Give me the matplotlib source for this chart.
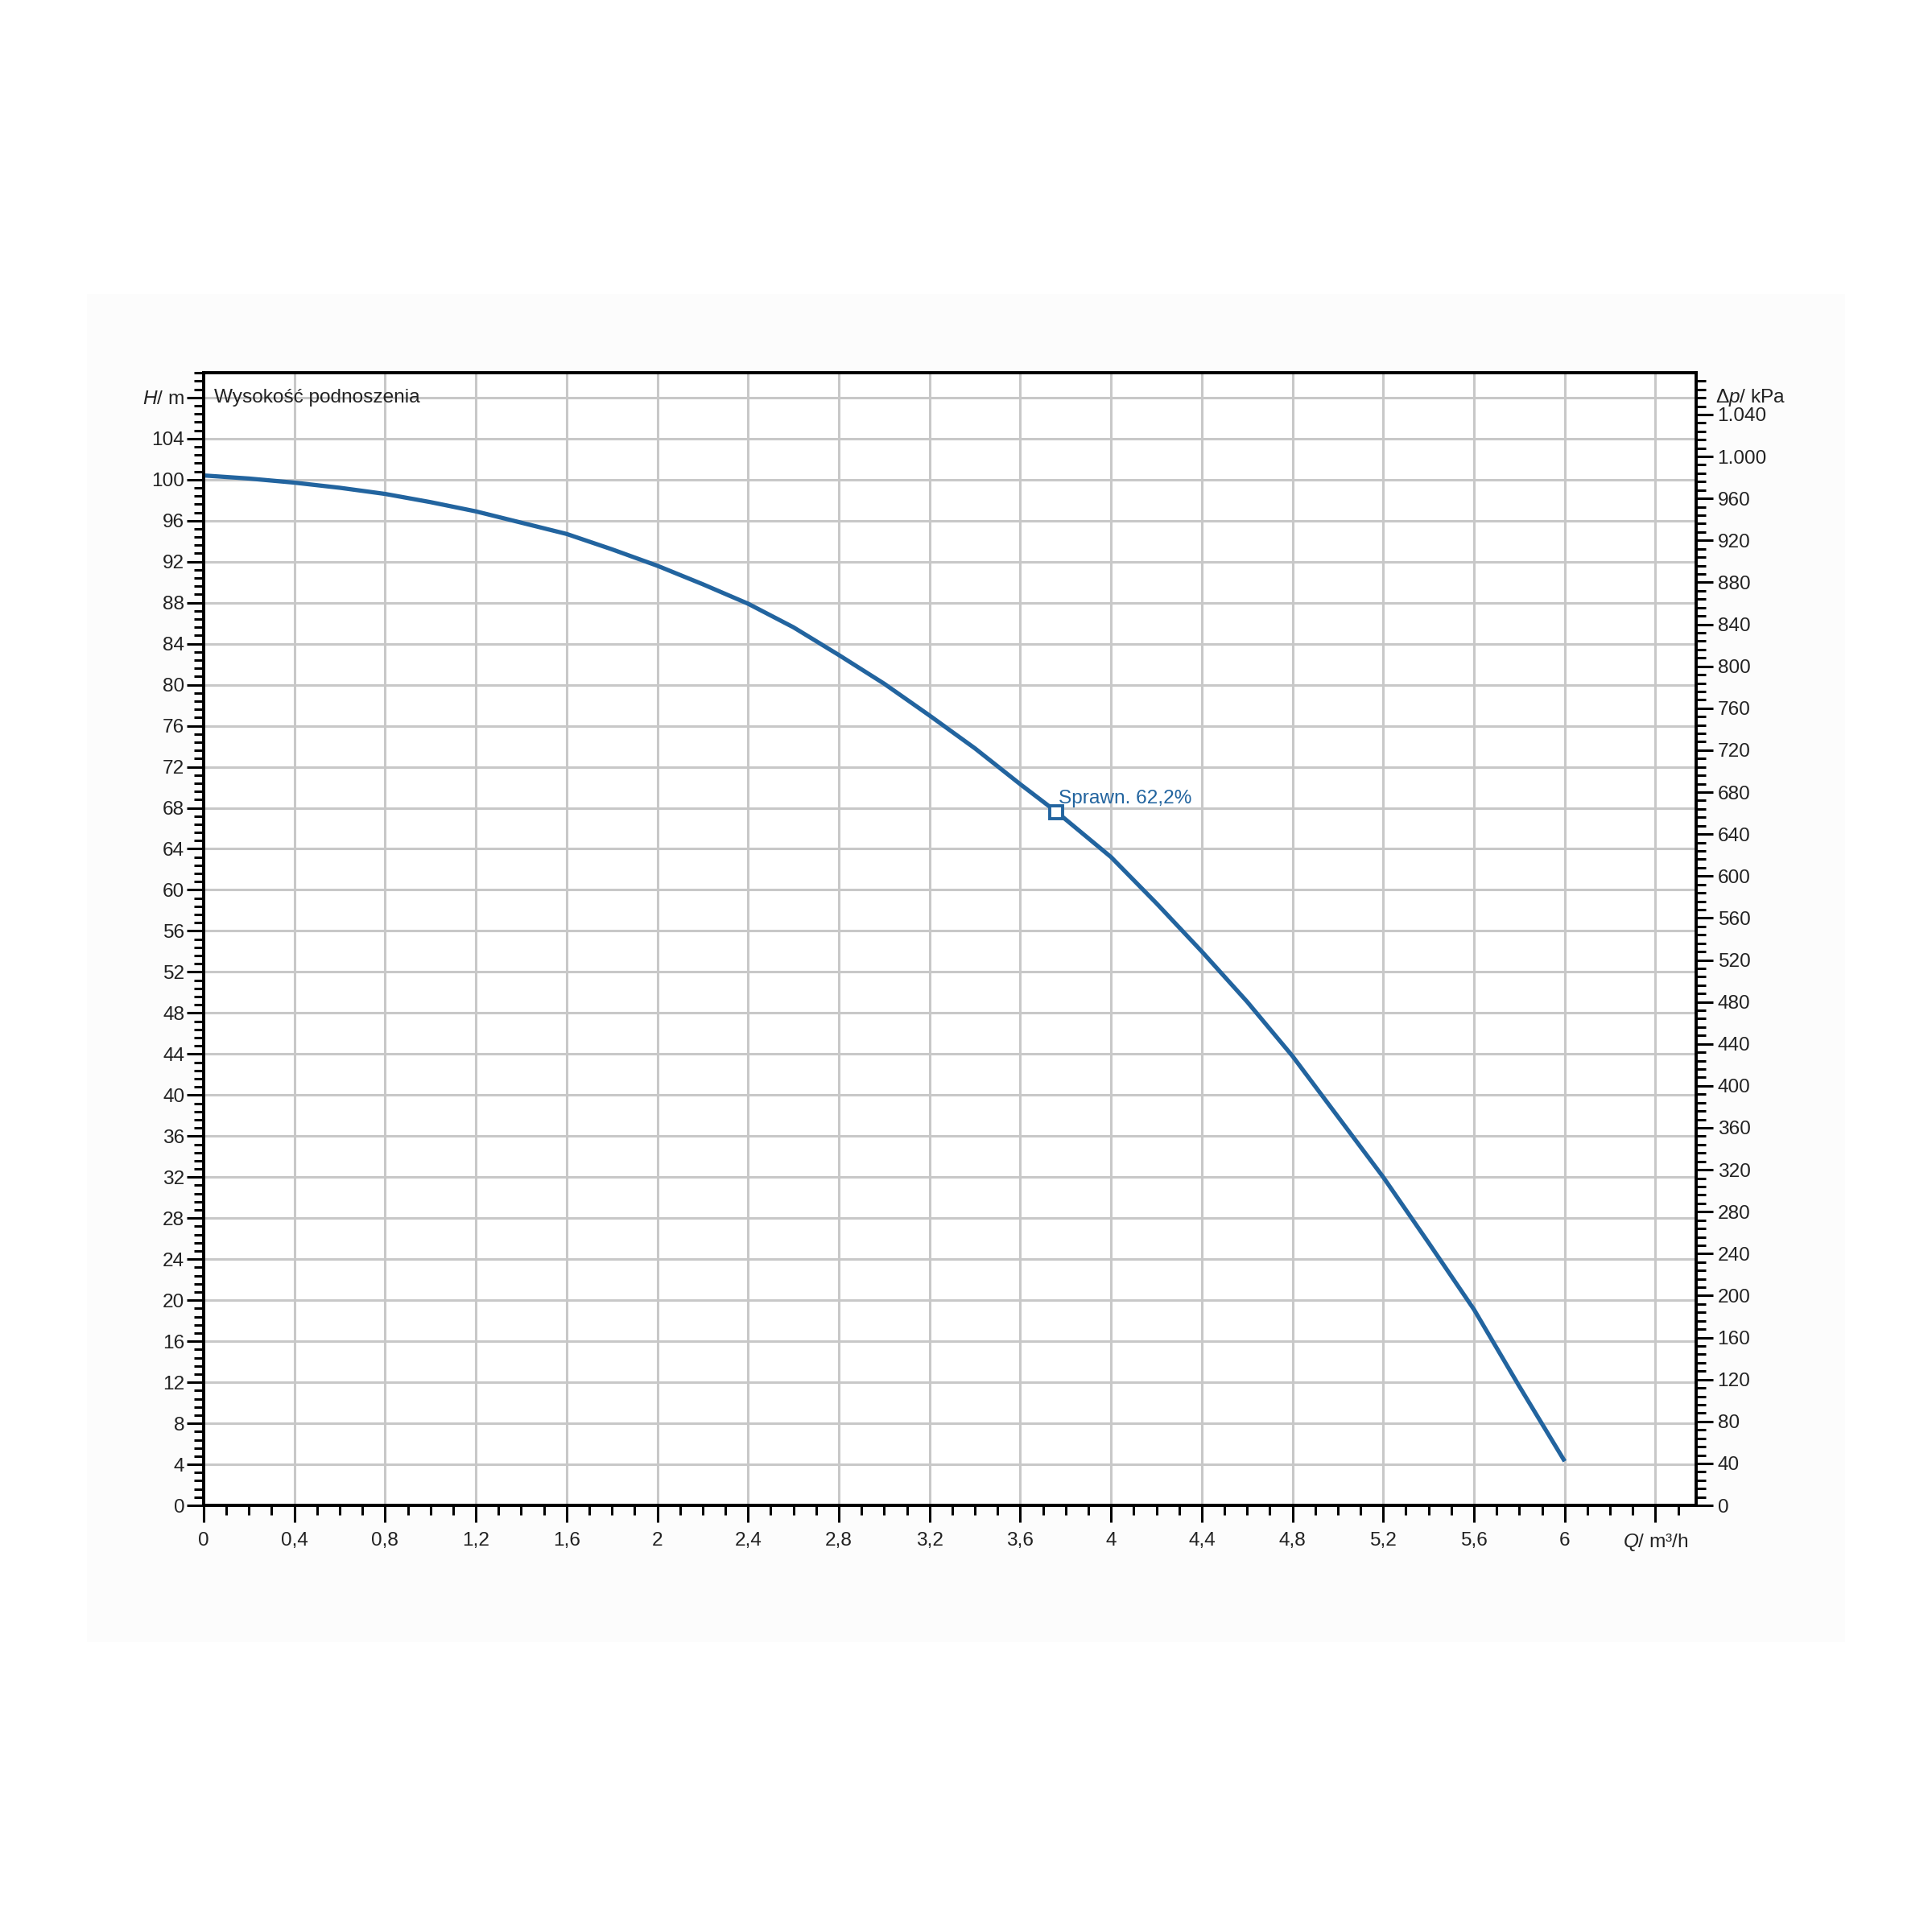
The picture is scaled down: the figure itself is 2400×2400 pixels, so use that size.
import numpy as np
import matplotlib.pyplot as plt
from matplotlib.patches import Rectangle
from matplotlib.ticker import FixedLocator, FixedFormatter, MultipleLocator

plt.rcParams['font.family'] = ['Liberation Sans', 'DejaVu Sans']
plt.rcParams['mathtext.fontset'] = 'custom'
plt.rcParams['mathtext.rm'] = 'Liberation Sans'
plt.rcParams['mathtext.it'] = 'Liberation Sans:italic'

# krzywa pompy: Q [m3/h], H [m]
q_vals = [0, 0.2, 0.4, 0.6, 0.8, 1.0, 1.2, 1.4, 1.6, 1.8, 2.0, 2.2, 2.4, 2.6, 2.8,
          3.0, 3.2, 3.4, 3.6, 3.76, 4.0, 4.2, 4.4, 4.6, 4.8, 5.0, 5.2, 5.4, 5.6, 5.8, 6.0]
h_vals = [100.4, 100.1, 99.7, 99.2, 98.6, 97.8, 96.9, 95.8, 94.7, 93.2, 91.6, 89.8, 87.9, 85.6, 82.9,
          80.1, 77.0, 73.8, 70.3, 67.6, 63.2, 58.7, 54.0, 49.1, 43.8, 37.9, 32.0, 25.6, 19.1, 11.6, 4.3]

bep_q = 3.758
bep_h = 67.6
bep_label = 'Sprawn. 62,2%'

x_ticks = [0, 0.4, 0.8, 1.2, 1.6, 2, 2.4, 2.8, 3.2, 3.6, 4, 4.4, 4.8, 5.2, 5.6, 6, 6.4]
x_labels = ['0', '0,4', '0,8', '1,2', '1,6', '2', '2,4', '2,8', '3,2', '3,6',
            '4', '4,4', '4,8', '5,2', '5,6', '6', r'$\mathit{Q}$/ m³/h']
y_ticks = list(range(0, 109, 4))
y_labels = [str(v) for v in range(0, 105, 4)] + [r'$\mathit{H}$/ m']
kpa_ticks = list(range(0, 1041, 40))
kpa_labels = [f"{v:,}".replace(',', '.') for v in kpa_ticks]

KPA_PER_M = 9.78
blue = '#22649f'
grid_c = '#c8c8c8'
fs = 8.8

fig = plt.figure(figsize=(12, 12), dpi=200)
fig.patches.append(Rectangle((0.045, 0.15), 0.91, 0.698, transform=fig.transFigure,
                             facecolor='#fcfcfc', edgecolor='none', zorder=-10))
ax = fig.add_axes([0.1054, 0.2208, 0.7726, 0.5862])
ax.set_facecolor('white')

ax.plot(q_vals, h_vals, color=blue, lw=1.9, zorder=3, solid_capstyle='butt')
ax.plot([bep_q], [bep_h], marker='s', ms=5.5, mfc='white', mec=blue, mew=1.4,
        ls='none', zorder=4)
ax.annotate(bep_label, (bep_q, bep_h), xytext=(1, 2), textcoords='offset points',
            color=blue, fontsize=fs, ha='left', va='bottom')

ax.set_xlim(0, 6.58)
ax.set_ylim(0, 110.4)

ax.xaxis.set_major_locator(FixedLocator(x_ticks))
ax.xaxis.set_major_formatter(FixedFormatter(x_labels))
ax.xaxis.set_minor_locator(MultipleLocator(0.1))
ax.yaxis.set_major_locator(FixedLocator(y_ticks))
ax.yaxis.set_major_formatter(FixedFormatter(y_labels))
ax.yaxis.set_minor_locator(MultipleLocator(0.8))

ax.tick_params(which='major', direction='out', length=7.5, width=1.1, color='black',
               labelsize=fs, labelcolor='#222222')
ax.tick_params(which='minor', direction='out', length=4.3, width=1.1, color='black')
ax.tick_params(axis='y', which='major', pad=1.0)
ax.tick_params(axis='x', which='major', pad=4.5)

ax.grid(True, which='major', color=grid_c, lw=1.1, zorder=0)
ax.set_axisbelow(True)
for s in ax.spines.values():
    s.set_linewidth(1.3)
    s.set_color('black')

ax.text(0.007, 108, 'Wysokość podnoszenia', transform=ax.get_yaxis_transform(),
        fontsize=fs, color='#222222', ha='left', va='center')

ax2 = ax.twinx()
ax2.set_ylim(0, 110.4 * KPA_PER_M)
ax2.yaxis.set_major_locator(FixedLocator(kpa_ticks))
ax2.yaxis.set_major_formatter(FixedFormatter(kpa_labels))
ax2.yaxis.set_minor_locator(MultipleLocator(8))
ax2.tick_params(which='major', direction='out', length=7.5, width=1.1, color='black',
                labelsize=fs, labelcolor='#222222', pad=2.0)
ax2.tick_params(which='minor', direction='out', length=4.3, width=1.1, color='black')
for s in ax2.spines.values():
    s.set_linewidth(1.3)
ax2.text(1.013, 108 * KPA_PER_M, r'$\Delta\mathit{p}$/ kPa', transform=ax2.get_yaxis_transform(),
         fontsize=fs, color='#222222', ha='left', va='center')

fig.savefig('out.png', dpi=200, facecolor='white')
